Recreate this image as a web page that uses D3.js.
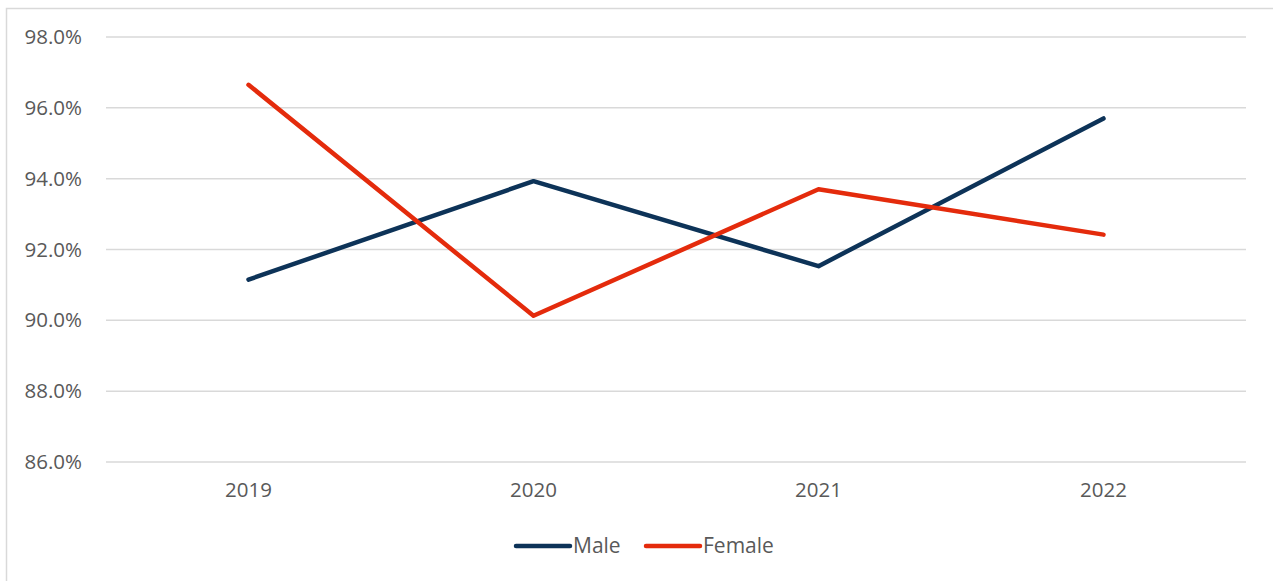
<!DOCTYPE html>
<html>
<head>
<meta charset="utf-8">
<script src="https://cdn.jsdelivr.net/npm/d3@7"></script>
<style>
  body { margin: 0; background: #ffffff; }
</style>
</head>
<body>
<div id="chart"></div>
<script>

// data
const years = ["2019", "2020", "2021", "2022"];
const maleValues = [91.15, 93.93, 91.53, 95.70];
const femaleValues = [96.65, 90.13, 93.70, 92.42];
const yTicks = [86, 88, 90, 92, 94, 96, 98];

const seriesNames = ["Male", "Female"];
const seriesColors = ["#0D3358", "#E42B0C"];

const W = 1273, H = 581;
const fontFamily = "'Open Sans', 'Noto Sans', sans-serif";
const labelColor = "#595959";

const svg = d3.select("#chart").append("svg")
  .attr("width", W)
  .attr("height", H);

// outer chart border
svg.append("rect")
  .attr("x", 6.5).attr("y", 8.5)
  .attr("width", W + 10).attr("height", H + 10)
  .attr("fill", "none")
  .attr("stroke", "#d9d9d9")
  .attr("stroke-width", 1.5);

const plot = { left: 106, right: 1246, top: 37, bottom: 462 };

const x = d3.scaleBand()
  .domain(years)
  .range([plot.left, plot.right]);

const y = d3.scaleLinear()
  .domain([86, 98])
  .range([plot.bottom, plot.top]);

// gridlines
svg.append("g")
  .selectAll("line")
  .data(yTicks)
  .enter()
  .append("line")
  .attr("x1", plot.left)
  .attr("x2", plot.right)
  .attr("y1", d => y(d))
  .attr("y2", d => y(d))
  .attr("stroke", "#d9d9d9")
  .attr("stroke-width", 1.5);

// y axis labels
const yAxis = d3.axisLeft(y)
  .tickValues(yTicks)
  .tickSize(0)
  .tickPadding(0)
  .tickFormat(d => d.toFixed(1) + "%");

const yG = svg.append("g")
  .attr("transform", "translate(82,0)")
  .call(yAxis);
yG.select(".domain").remove();
yG.selectAll("text")
  .attr("font-family", fontFamily)
  .attr("font-size", 20.5)
  .attr("fill", labelColor);

// x axis labels
const xAxis = d3.axisBottom(x)
  .tickSize(0)
  .tickPadding(0);

const xG = svg.append("g")
  .attr("transform", "translate(0," + (plot.bottom + 20) + ")")
  .call(xAxis);
xG.select(".domain").remove();
xG.selectAll("text")
  .attr("font-family", fontFamily)
  .attr("font-size", 20.5)
  .attr("fill", labelColor);

// lines
const line = d3.line()
  .x((d, i) => x(years[i]) + x.bandwidth() / 2)
  .y(d => y(d));

const seriesData = [maleValues, femaleValues];

svg.append("g")
  .selectAll("path")
  .data(seriesData)
  .enter()
  .append("path")
  .attr("d", d => line(d))
  .attr("fill", "none")
  .attr("stroke", (d, i) => seriesColors[i])
  .attr("stroke-width", 4.5)
  .attr("stroke-linecap", "round")
  .attr("stroke-linejoin", "round");

// legend
const legendItems = [
  { name: seriesNames[0], color: seriesColors[0], x: 516 },
  { name: seriesNames[1], color: seriesColors[1], x: 646 }
];

const legend = svg.append("g");
legendItems.forEach(function (item) {
  legend.append("line")
    .attr("x1", item.x).attr("x2", item.x + 54)
    .attr("y1", 546).attr("y2", 546)
    .attr("stroke", item.color)
    .attr("stroke-width", 4.5)
    .attr("stroke-linecap", "round");
  legend.append("text")
    .attr("x", item.x + 57)
    .attr("y", 553)
    .attr("font-family", fontFamily)
    .attr("font-size", 21)
    .attr("fill", labelColor)
    .text(item.name);
});

</script>
</body>
</html>
